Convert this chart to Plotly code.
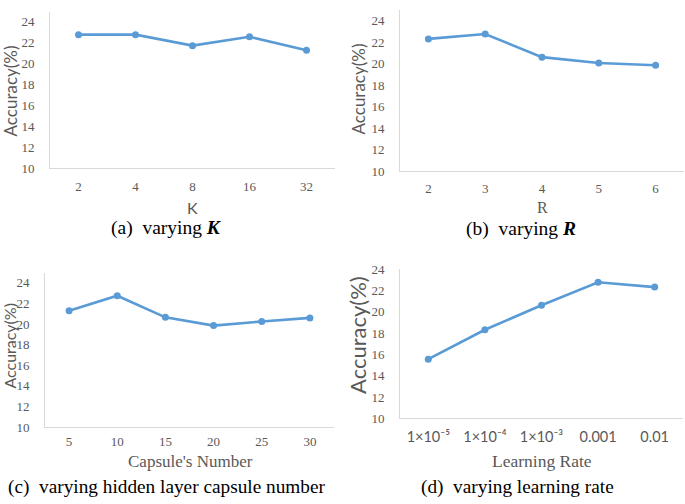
import plotly.graph_objects as go

W, H = 685, 504

# ---- data ----
k_cats = ["2", "4", "8", "16", "32"]
k_acc = [22.75, 22.75, 21.7, 22.55, 21.25]

r_cats = ["2", "3", "4", "5", "6"]
r_acc = [22.3, 22.75, 20.6, 20.05, 19.85]

cap_cats = ["5", "10", "15", "20", "25", "30"]
cap_acc = [21.3, 22.75, 20.65, 19.85, 20.25, 20.6]

lr_cats = ["1×10⁻⁵", "1×10⁻⁴", "1×10⁻³", "0.001", "0.01"]
lr_acc = [15.55, 18.3, 20.6, 22.75, 22.3]

y_ticks = [10, 12, 14, 16, 18, 20, 22, 24]

LINE = "#5B9BD5"
AX = "#D9D9D9"
TXT = "#595959"
SERIF = "Liberation Serif"
SANS = "Lato"

def px(x):
    return x / W

def py(y):
    return 1 - y / H

# panel geometry in pixels
panels = [
    dict(cats=k_cats, vals=k_acc, x0=50, x1=335, yt=5, yb=166, ymax=24.93, tickfont=SERIF, ts=13, so=6),
    dict(cats=r_cats, vals=r_acc, x0=400, x1=684, yt=3, yb=169, ymax=25.0, tickfont=SERIF, ts=13, so=5),
    dict(cats=cap_cats, vals=cap_acc, x0=45, x1=334, yt=274, yb=433, ymax=24.97, tickfont=SERIF, ts=13, so=2),
    dict(cats=lr_cats, vals=lr_acc, x0=400, x1=683, yt=270, yb=424, ymax=24.0, tickfont=SANS, ts=14.5, so=5),
]

fig = go.Figure()
layout = dict(
    width=W, height=H,
    margin=dict(l=0, r=0, t=0, b=0),
    paper_bgcolor="white", plot_bgcolor="white",
    showlegend=False,
)

for i, p in enumerate(panels, start=1):
    xa = "x" if i == 1 else f"x{i}"
    ya = "y" if i == 1 else f"y{i}"
    fig.add_trace(go.Scatter(
        x=p["cats"], y=p["vals"], mode="lines+markers",
        line=dict(color=LINE, width=2.6),
        marker=dict(color=LINE, size=7),
        xaxis=xa, yaxis=ya, hoverinfo="skip",
    ))
    n = len(p["cats"])
    layout["xaxis" if i == 1 else f"xaxis{i}"] = dict(
        domain=[px(p["x0"]), px(p["x1"])],
        anchor=ya, type="category", range=[-0.5, n - 0.5],
        showline=True, linecolor=AX, linewidth=1,
        showgrid=False, zeroline=False, ticks="",
        tickfont=dict(family=p["tickfont"], size=p["ts"], color=TXT),
        ticklabelstandoff=p["so"], fixedrange=True,
    )
    layout["yaxis" if i == 1 else f"yaxis{i}"] = dict(
        domain=[py(p["yb"]), py(p["yt"])],
        anchor=xa, range=[10, p["ymax"]],
        tickvals=y_ticks,
        showline=True, linecolor=AX, linewidth=1,
        showgrid=False, zeroline=False, ticks="",
        tickfont=dict(family=SERIF, size=13, color=TXT),
        ticklabelstandoff=12, fixedrange=True,
    )

fig.update_layout(**layout)

ann = []
def add(text, x, y, size, family, color=TXT, angle=0):
    ann.append(dict(text=text, x=px(x), y=py(y), xref="paper", yref="paper",
                    showarrow=False, xanchor="center", yanchor="middle",
                    textangle=angle, font=dict(family=family, size=size, color=color)))

# y-axis titles
add("Accuracy(%)", 10, 87, 17, SANS, angle=-90)
add("Accuracy(%)", 358, 85, 17, SANS, angle=-90)
add("Accuracy(%)", 10, 349, 16, SANS, angle=-90)
add("Accuracy(%)", 358, 338, 22, SANS, angle=-90)

# x-axis titles
add("K", 192, 207, 16, SANS)
add("R", 542, 207, 16, SERIF)
add("Capsule's Number", 190, 468, 17, SERIF)
add("Learning Rate", 542, 468, 17.5, SERIF)

# captions
add("(a)  varying <b><i>K</i></b>", 166, 228, 19.5, SERIF, color="black")
add("(b)  varying <b><i>R</i></b>", 521, 229, 19.5, SERIF, color="black")
add("(c)  varying hidden layer capsule number", 167, 495, 19.3, SERIF, color="black")
add("(d)  varying learning rate", 517, 495, 19.3, SERIF, color="black")

fig.update_layout(annotations=ann)
fig.write_html(
    "out.html",
    config={"displayModeBar": False},
    post_script="document.body.style.margin='0';document.body.style.overflow='hidden';",
)
